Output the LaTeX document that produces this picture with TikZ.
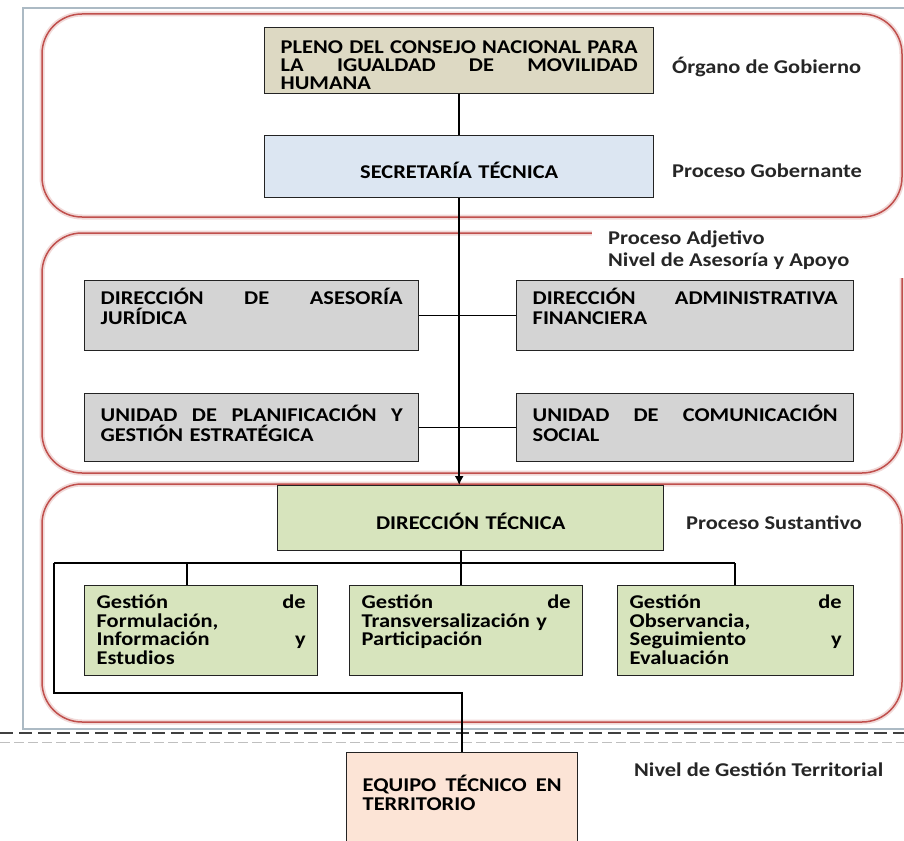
\documentclass[tikz,border=0pt]{standalone}
\usepackage{fontspec}
\setmainfont{Carlito}[FakeStretch=1.15]
\usetikzlibrary{arrows.meta}
\definecolor{redline}{RGB}{192,80,77}
\definecolor{framecol}{RGB}{172,186,196}
\definecolor{tancol}{RGB}{221,217,195}
\definecolor{bluecol}{RGB}{220,230,242}
\definecolor{graycol}{RGB}{212,212,212}
\definecolor{greencol}{RGB}{215,228,189}
\definecolor{peachcol}{RGB}{252,228,214}
\definecolor{boxline}{RGB}{35,35,35}
\newcommand{\justline}[1]{\makebox[\linewidth][s]{#1}}
\tikzset{
  box/.style={draw=boxline, line width=1.4pt, inner xsep=16pt, inner ysep=0pt,
    align=left, anchor=north west,
    font=\fontsize{19.5}{20}\selectfont\bfseries},
  gbox/.style={box, inner xsep=12pt, fill=greencol, minimum height=90pt,
    font=\fontsize{19.5}{18.5}\selectfont\bfseries, text height=16pt, text depth=60pt},
  cbox/.style={box, align=center, text height=27pt, text depth=4pt},
  lbl/.style={anchor=west, inner sep=0pt, font=\fontsize{19.5}{20}\selectfont\bfseries, text=black!85},
  region/.style={draw=redline, line width=1.5pt, rounded corners=40pt},
  glow/.style={draw=redline!22, line width=5pt, rounded corners=40pt},
  conn/.style={draw=black, line width=1.5pt},
  dashline/.style={draw=black!75, line width=2.2pt, dash pattern=on 13pt off 6pt},
}
\begin{document}
\begin{tikzpicture}[x=1pt,y=-1pt]
\useasboundingbox (0,0) rectangle (904,840);
\clip (0,0) rectangle (904,840);
\fill[white] (0,0) rectangle (904,840);
% outer frame
\draw[framecol, line width=1.5pt] (23,8) rectangle (930,729);
% regions
\draw[glow] (42,14) rectangle (902,217);
\draw[region] (42,14) rectangle (902,217);
\draw[glow] (42,233) rectangle (902,473);
\draw[region] (42,233) rectangle (902,473);
\draw[glow] (42,484) rectangle (902,722);
\draw[region] (42,484) rectangle (902,722);
% white patch behind the Proceso Adjetivo label
\fill[white] (592,224) rectangle (906,278);
% dashed separator
\draw[black!25, line width=1pt, dash pattern=on 10pt off 4pt] (0,742) -- (904,742);
\draw[dashline] (0,733) -- (904,733);

% boxes
\node[box, fill=tancol, text width=357pt, minimum height=66pt,
      font=\fontsize{19.5}{18}\selectfont\bfseries, text height=26pt, text depth=40pt] (pleno) at (264,27)
  {\justline{PLENO\hfill DEL\hfill CONSEJO\hfill NACIONAL\hfill PARA}\\
   \justline{LA\hfill IGUALDAD\hfill DE\hfill MOVILIDAD}\\
   HUMANA};
\node[cbox, fill=bluecol, text width=357pt, minimum height=62pt] (sec) at (264,135)
  {SECRETARÍA TÉCNICA};
\node[box, fill=graycol, text width=302pt, minimum height=70pt, text depth=39pt] (daj) at (84,280)
  {\justline{DIRECCIÓN\hfill DE\hfill ASESORÍA}\\ JURÍDICA};
\node[box, fill=graycol, text width=305pt, minimum height=70pt, text depth=39pt] (daf) at (516,280)
  {\justline{DIRECCIÓN\hfill ADMINISTRATIVA}\\ FINANCIERA};
\node[box, fill=graycol, text width=302pt, minimum height=68pt, text depth=28pt] (upg) at (84,393)
  {\justline{UNIDAD\hfill DE\hfill PLANIFICACIÓN\hfill Y}\\ GESTIÓN ESTRATÉGICA};
\node[box, fill=graycol, text width=305pt, minimum height=68pt, text depth=28pt] (ucs) at (516,393)
  {\justline{UNIDAD\hfill DE\hfill COMUNICACIÓN}\\ SOCIAL};
\node[cbox, fill=greencol, text width=354pt, minimum height=65pt] (dt) at (277,485)
  {DIRECCIÓN TÉCNICA};
\node[gbox, text width=209pt] (g1) at (84,585)
  {\justline{Gestión\hfill de}\\ Formulación,\\ \justline{Información\hfill y}\\ Estudios};
\node[gbox, text width=209pt] (g2) at (349,585)
  {\justline{Gestión\hfill de}\\ Transversalización y\\ Participación};
\node[gbox, text width=212pt] (g3) at (617,585)
  {\justline{Gestión\hfill de}\\ Observancia,\\ \justline{Seguimiento\hfill y}\\ Evaluación};
\node[box, fill=peachcol, text width=199pt, minimum height=98pt,
      font=\fontsize{19.5}{19}\selectfont\bfseries, text height=13pt, text depth=34pt] (eq) at (346,752)
  {\justline{EQUIPO\hfill TÉCNICO\hfill EN}\\ TERRITORIO};

% labels
\node[lbl] (l1) at (672,67) {Órgano de Gobierno};
\node[lbl] (l2) at (672,171) {Proceso Gobernante};
\node[lbl] (l3) at (608,239) {Proceso Adjetivo};
\node[lbl] (l4) at (608,261) {Nivel de Asesoría y Apoyo};
\node[lbl] (l5) at (686,523) {Proceso Sustantivo};
\node[lbl] (l6) at (634,770) {Nivel de Gestión Territorial};

% connectors
\coordinate (bl) at (54,563);
\coordinate (d1) at (187,563);
\coordinate (d2) at (461,563);
\coordinate (d3) at (735,563);
\coordinate (ll) at (54,693);
\draw[conn] (pleno.south) -- (sec.north);
\draw[conn, -{Latex[length=9pt,width=9pt]}] (sec.south) -- (sec.south |- dt.north);
\draw[conn] (daj.east) -- (daf.west);
\draw[conn] (upg.east) -- (ucs.west);
\draw[conn] (d2 |- dt.south) -- (d2);
\draw[conn] (bl) -- (d3);
\draw[conn] (d1) -- (d1 |- g1.north);
\draw[conn] (d2) -- (d2 |- g2.north);
\draw[conn] (d3) -- (d3 |- g3.north);
\draw[conn] (bl) -- (ll) -- (ll -| eq.north) -- (eq.north);
\end{tikzpicture}
\end{document}
